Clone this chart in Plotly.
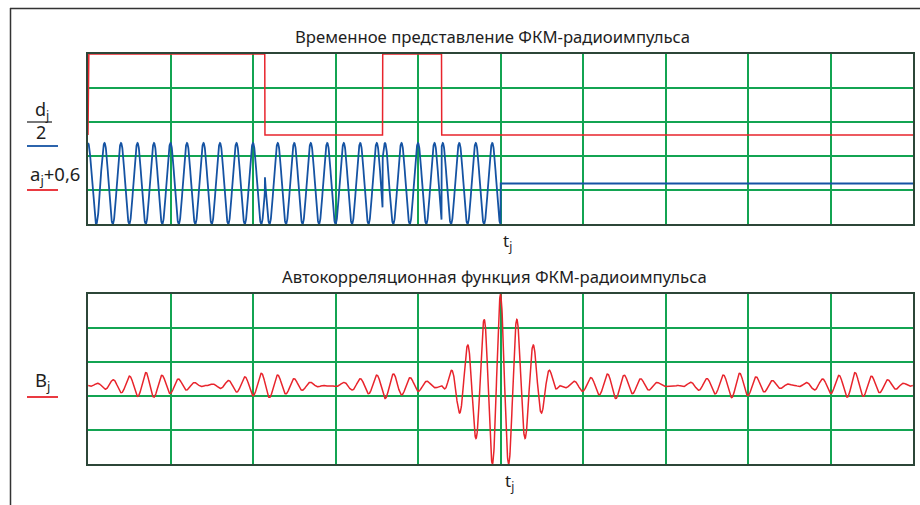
import numpy as np
import plotly.graph_objects as go

# ---- signal parameters -------------------------------------------------
barker_code = [1, 1, 1, 0, 0, 1, 0]   # 7-chip Barker code as 0/1 phase states
pulse_len = 5.0                       # pulse duration, in grid divisions
window_len = 10.0                     # time axis span
carrier_freq = 5.0                    # carrier cycles per division
code_offset = 0.6                     # vertical shift of the code trace
n_samples = 4001

W, H = 920, 505
PX0, PX1 = 88, 913
TOP_Y0, TOP_Y1 = 54, 224
BOT_Y0, BOT_Y1 = 294, 464

GRID = "#13a452"
FRAME = "#2c4638"
RED = "#e8242c"
BLUE = "#1553a3"
TEXT = "#1e1e1e"
FONT = "Noto Sans"

# ---- build the BPSK radio pulse ----------------------------------------
t = np.linspace(0.0, window_len, n_samples)
chip_len = pulse_len / len(barker_code)
chip_idx = np.clip((t / chip_len).astype(int), 0, len(barker_code) - 1)
in_pulse = t <= pulse_len
a = np.where(in_pulse, np.array(barker_code)[chip_idx], 0)
a[0] = 0  # code starts from zero level at the origin
phase_sign = 2 * np.array(barker_code)[chip_idx] - 1
d = np.where(in_pulse, np.cos(2 * np.pi * carrier_freq * t) * phase_sign, 0.0)

# ---- autocorrelation of the pulse --------------------------------------
dt = t[1] - t[0]
dp = d[t < pulse_len]
B = np.correlate(dp, dp, mode="full")
B = B / B.max()
lags = (np.arange(B.size) - (dp.size - 1)) * dt
tau = pulse_len + lags

fig = go.Figure()
fig.add_trace(go.Scatter(x=t, y=a + code_offset, mode="lines",
                         line=dict(color=RED, width=1.5), xaxis="x", yaxis="y",
                         hoverinfo="skip"))
fig.add_trace(go.Scatter(x=t, y=d / 2, mode="lines",
                         line=dict(color=BLUE, width=1.8), xaxis="x", yaxis="y",
                         hoverinfo="skip"))
fig.add_trace(go.Scatter(x=tau, y=B, mode="lines",
                         line=dict(color=RED, width=1.5), xaxis="x2", yaxis="y2",
                         hoverinfo="skip"))


def px(x):
    return x / W


def py(y):
    return 1 - y / H


top_lo, top_hi = -0.5, 1.6
bot_lo, bot_hi = float(B.min()), float(B.max())

axis_common = dict(showline=True, mirror=True, linecolor=FRAME, linewidth=2,
                   showgrid=True, gridcolor=GRID, gridwidth=1.5,
                   showticklabels=False, ticks="", zeroline=False, fixedrange=True)

fig.update_layout(
    width=W, height=H,
    margin=dict(l=0, r=0, t=0, b=0),
    paper_bgcolor="white", plot_bgcolor="white",
    showlegend=False,
    xaxis=dict(domain=[px(PX0), px(PX1)], range=[0, window_len],
               tickvals=list(np.arange(0, window_len + 0.5, 1.0)), anchor="y",
               **axis_common),
    yaxis=dict(domain=[py(TOP_Y1), py(TOP_Y0)], range=[top_lo, top_hi],
               tickvals=list(np.linspace(top_lo, top_hi, 6)), anchor="x",
               **axis_common),
    xaxis2=dict(domain=[px(PX0), px(PX1)], range=[0, window_len],
                tickvals=list(np.arange(0, window_len + 0.5, 1.0)), anchor="y2",
                **axis_common),
    yaxis2=dict(domain=[py(BOT_Y1), py(BOT_Y0)], range=[bot_lo, bot_hi],
                tickvals=list(np.linspace(bot_lo, bot_hi, 6)), anchor="x2",
                **axis_common),
)


def label(x, y, text, size=17):
    fig.add_annotation(x=px(x), y=py(y), xref="paper", yref="paper",
                       text=text, showarrow=False, xanchor="center",
                       yanchor="middle", font=dict(family=FONT, size=size, color=TEXT))


label(493, 37, "Временное представление ФКМ-радиоимпульса", 16.7)
label(495, 276, "Автокорреляционная функция ФКМ-радиоимпульса", 16.7)
label(507, 241, "t<sub>j</sub>", 17)
label(509, 481, "t<sub>j</sub>", 17)
label(42, 111, "d<sub>j</sub>", 18)
label(41, 132, "2", 18)
label(55, 175, "a<sub>j</sub>+0,6", 18.5)
label(42, 381, "B<sub>j</sub>", 18.5)

shapes = [
    # outer frame
    dict(type="line", xref="paper", yref="paper", x0=px(10), x1=1, y0=py(8.5), y1=py(8.5),
         line=dict(color="#333333", width=1.5)),
    dict(type="line", xref="paper", yref="paper", x0=px(10.5), x1=px(10.5), y0=0, y1=py(8),
         line=dict(color="#333333", width=1.5)),
    # fraction bar
    dict(type="line", xref="paper", yref="paper", x0=px(27), x1=px(52), y0=py(122), y1=py(122),
         line=dict(color=TEXT, width=1.2)),
    # legend swatches
    dict(type="line", xref="paper", yref="paper", x0=px(27), x1=px(58), y0=py(146), y1=py(146),
         line=dict(color=BLUE, width=1.8)),
    dict(type="line", xref="paper", yref="paper", x0=px(27), x1=px(58), y0=py(190), y1=py(190),
         line=dict(color=RED, width=1.8)),
    dict(type="line", xref="paper", yref="paper", x0=px(27), x1=px(58), y0=py(397), y1=py(397),
         line=dict(color=RED, width=1.8)),
]
fig.update_layout(shapes=shapes)

fig.write_html("out.html")
